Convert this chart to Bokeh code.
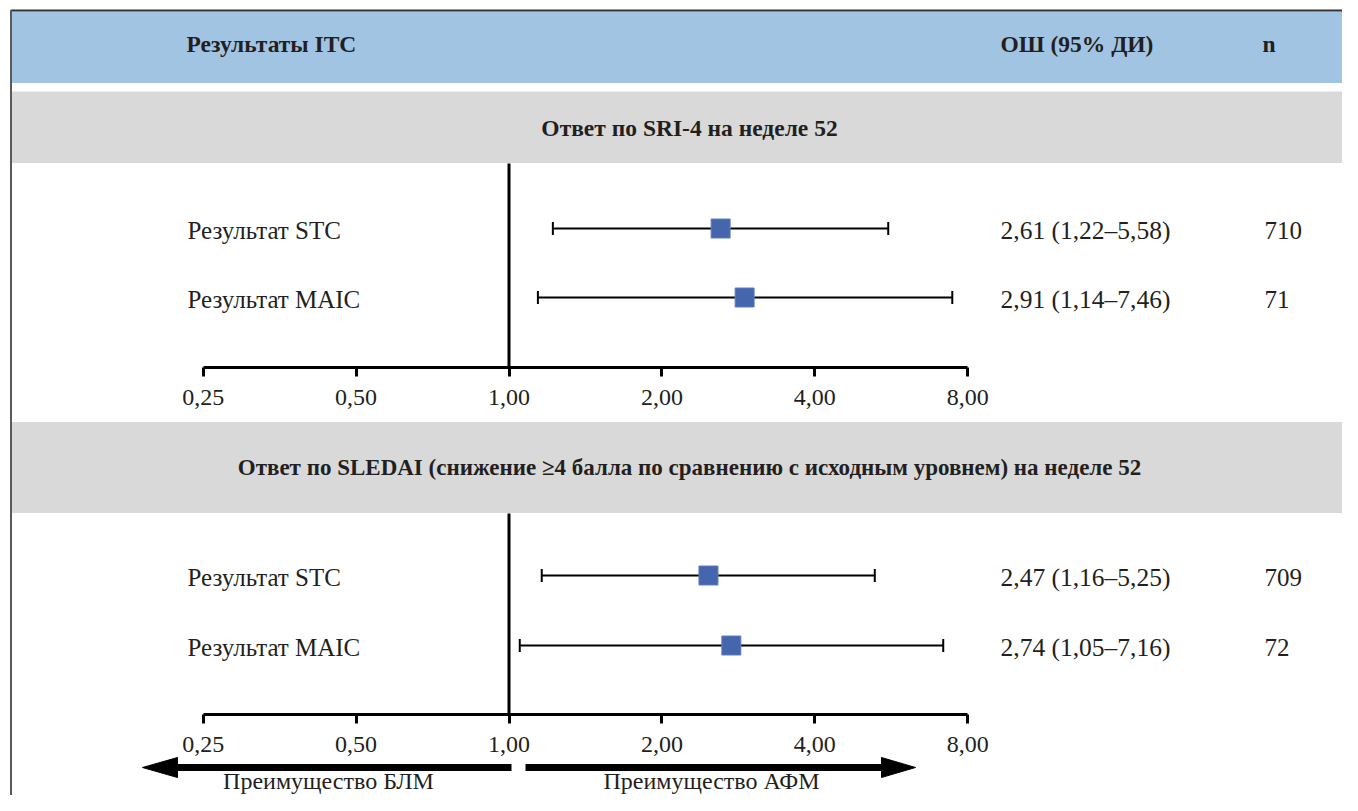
from bokeh.plotting import figure
from bokeh.models import Range1d, LogScale, LogAxis, FixedTicker
from bokeh.core.properties import value
from bokeh.embed import file_html
from bokeh.resources import INLINE

# ---------------- data ----------------
header_labels = ["Результаты ITC", "ОШ (95% ДИ)", "n"]
section_titles = [
    "Ответ по SRI-4 на неделе 52",
    "Ответ по SLEDAI (снижение ≥4 балла по сравнению с исходным уровнем) на неделе 52",
]
row_labels = ["Результат STC", "Результат MAIC", "Результат STC", "Результат MAIC"]
or_est = [2.61, 2.91, 2.47, 2.74]
ci_low = [1.22, 1.14, 1.16, 1.05]
ci_high = [5.58, 7.46, 5.25, 7.16]
n_vals = [710, 71, 709, 72]
tick_values = [0.25, 0.5, 1.0, 2.0, 4.0, 8.0]
tick_labels = ["0,25", "0,50", "1,00", "2,00", "4,00", "8,00"]
direction_labels = ["Преимущество БЛМ", "Преимущество АФМ"]
null_value = 1.0

# ---------------- layout ----------------
W, H = 1342, 795
ONE_X = 508.5      # pixel of OR = 1
PER_DOUBLING = 152.9

FONT = value("Liberation Serif")
TXT = "#231F20"
BLUE = "#A2C4E3"
GRAY = "#D9D9D9"
SQ = "#4565AD"

row_y = [228, 297, 575, 645]
axis_y = [367, 714]
panel_top = [163, 513]
section_y = [127, 467]

p = figure(width=W, height=H, output_backend="svg", toolbar_location=None,
           x_range=Range1d(0, W), y_range=Range1d(H, 0),
           x_axis_location=None, y_axis_location=None, min_border=0,
           background_fill_color="white", border_fill_color="white")
p.outline_line_color = None
p.grid.visible = False

p.extra_x_ranges = {"or": Range1d(2 ** ((0 - ONE_X) / PER_DOUBLING),
                                  2 ** ((W - ONE_X) / PER_DOUBLING))}
p.extra_x_scales = {"or": LogScale()}

# bands
p.quad(left=[11, 11, 11], right=[W, W, W], top=[11, 91, 421.5],
       bottom=[82.5, 162.5, 512.5], fill_color=[BLUE, GRAY, GRAY], line_color=None)
# frame lines
p.segment(x0=[10], y0=[10], x1=[W], y1=[10], line_color="#333333", line_width=2)
p.segment(x0=[10.5], y0=[10], x1=[10.5], y1=[H], line_color="#5a5a5a", line_width=2)

# headers
p.text(x=[186, 1000, 1262], y=[43, 43, 43], text=header_labels, text_font=FONT,
       text_font_size="23.5px", text_font_style="bold", text_color=TXT,
       text_baseline="middle", text_align="left")
p.text(x=[689], y=[section_y[0]], text=[section_titles[0]], text_font=FONT,
       text_font_size="23.5px", text_font_style="bold", text_color=TXT,
       text_baseline="middle", text_align="center")
p.text(x=[689], y=[section_y[1]], text=[section_titles[1]], text_font=FONT,
       text_font_size="23px", text_font_style="bold", text_color=TXT,
       text_baseline="middle", text_align="center")

# null reference lines
p.segment(x0=[null_value] * 2, x1=[null_value] * 2, y0=panel_top, y1=axis_y,
          x_range_name="or", line_color="black", line_width=3)

# CI lines and caps
p.segment(x0=ci_low, x1=ci_high, y0=row_y, y1=row_y, x_range_name="or",
          line_color="black", line_width=2)
cap_lo = [y - 6.5 for y in row_y]
cap_hi = [y + 6.5 for y in row_y]
p.segment(x0=ci_low, x1=ci_low, y0=cap_lo, y1=cap_hi, x_range_name="or",
          line_color="black", line_width=2)
p.segment(x0=ci_high, x1=ci_high, y0=cap_lo, y1=cap_hi, x_range_name="or",
          line_color="black", line_width=2)
p.scatter(x=or_est, y=row_y, marker="square", size=19, x_range_name="or",
          fill_color=SQ, line_color="#5f7ec0", line_width=1)

# row texts
text_y = [y + 2 for y in row_y]
or_text = [f"{e:.2f} ({l:.2f}–{h:.2f})".replace(".", ",") for e, l, h in zip(or_est, ci_low, ci_high)]
p.text(x=[187] * 4, y=text_y, text=row_labels, text_font=FONT, text_font_size="25px",
       text_color=TXT, text_baseline="middle", text_align="left")
p.text(x=[1000] * 4, y=text_y, text=or_text, text_font=FONT, text_font_size="25.5px",
       text_color=TXT, text_baseline="middle", text_align="left")
p.text(x=[1264] * 4, y=text_y, text=[str(n) for n in n_vals], text_font=FONT,
       text_font_size="25px", text_color=TXT, text_baseline="middle", text_align="left")

# axes
for ay in axis_y:
    ax = LogAxis(x_range_name="or", fixed_location=ay,
                 bounds=(tick_values[0], tick_values[-1]),
                 ticker=FixedTicker(ticks=tick_values),
                 major_label_overrides=dict(zip(tick_values, tick_labels)),
                 axis_line_width=3, axis_line_color="black",
                 major_tick_line_width=3, major_tick_line_color="black",
                 major_tick_in=0, major_tick_out=9,
                 minor_tick_line_color=None,
                 major_label_text_font="Liberation Serif",
                 major_label_text_font_size="24px",
                 major_label_text_color=TXT,
                 major_label_standoff=13)
    p.add_layout(ax, "below")

# direction arrows
p.segment(x0=[176, 525], x1=[511, 882], y0=[767, 767], y1=[767, 767],
          line_color="black", line_width=7)
p.patches(xs=[[142, 177, 177], [915, 881, 881]], ys=[[767, 757, 777], [767, 757, 777]],
          fill_color="black", line_color="black")
p.text(x=[328, 711], y=[780, 780], text=direction_labels, text_font=FONT,
       text_font_size="24px", text_color=TXT, text_baseline="middle", text_align="center")

open("out.html", "w").write(file_html(p, INLINE))
